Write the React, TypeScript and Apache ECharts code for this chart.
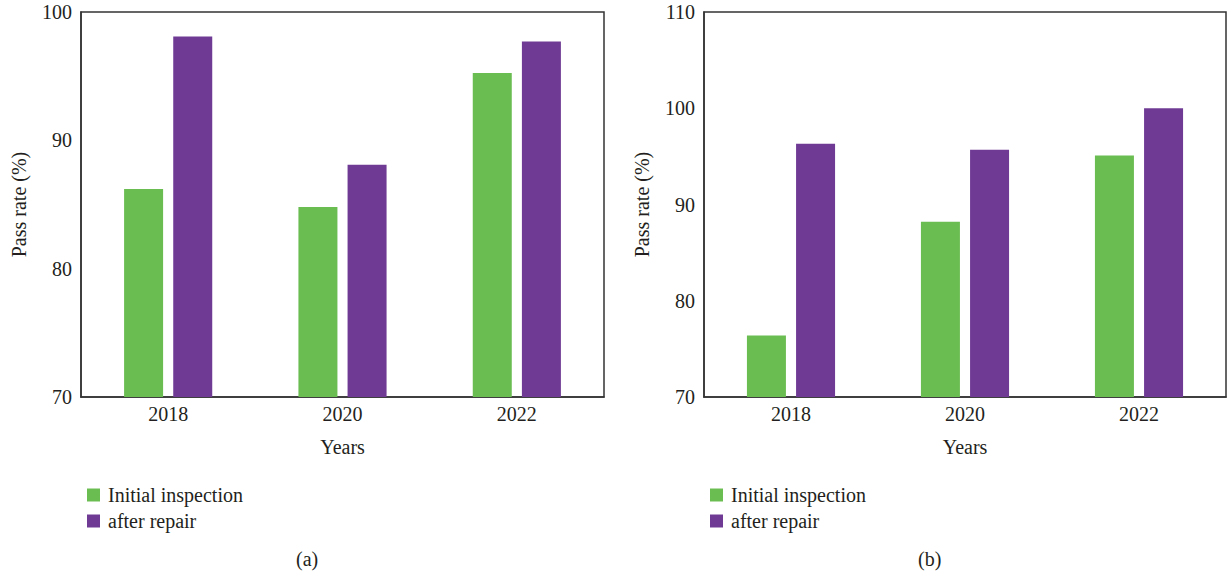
import React, { useEffect, useRef } from "react";
import * as echarts from "echarts";

const years = ["2018", "2020", "2022"];
const initialA = [86.2, 84.8, 95.25];
const repairA = [98.1, 88.1, 97.7];
const initialB = [76.4, 88.2, 95.1];
const repairB = [96.3, 95.7, 100.0];
const seriesNames = ["Initial inspection", "after repair"];
const panelLabels = ["(a)", "(b)"];

const GREEN = "#6abd51";
const PURPLE = "#6f3a94";
const FONT = "Liberation Serif";
const TXT = "#231f20";
const FS = 20;

export default function App() {
  const ref = useRef<HTMLDivElement>(null);
  useEffect(() => {
    const chart = echarts.init(ref.current!, null, { renderer: "svg" });
    const grids = [
      { left: 81, top: 12, width: 523, height: 385 },
      { left: 704, top: 12, width: 522, height: 385 },
    ];
    const yRanges = [
      { min: 70, max: 100, interval: 10 },
      { min: 70, max: 110, interval: 10 },
    ];
    const xAxis = grids.map((_, i) => ({
      type: "category",
      gridIndex: i,
      data: years,
      name: "Years",
      nameLocation: "middle",
      nameGap: 40,
      nameTextStyle: { fontFamily: FONT, fontSize: FS, color: TXT },
      axisTick: { show: false },
      axisLine: { lineStyle: { color: "#333", width: 1.5 } },
      axisLabel: { fontFamily: FONT, fontSize: FS, color: TXT, margin: 7 },
    }));
    const yAxis = grids.map((_, i) => ({
      type: "value",
      gridIndex: i,
      ...yRanges[i],
      name: "Pass rate (%)",
      nameLocation: "middle",
      nameGap: 52,
      nameTextStyle: { fontFamily: FONT, fontSize: FS, color: TXT },
      splitLine: { show: false },
      axisTick: { show: false },
      axisLine: { show: true, lineStyle: { color: "#333", width: 1.5 } },
      axisLabel: { fontFamily: FONT, fontSize: FS, color: TXT, margin: 9 },
    }));
    const data = [
      [initialA, repairA],
      [initialB, repairB],
    ];
    const series: any[] = [];
    data.forEach((pair, i) => {
      pair.forEach((vals, j) => {
        series.push({
          type: "bar",
          name: seriesNames[j],
          xAxisIndex: i,
          yAxisIndex: i,
          data: vals,
          barWidth: 39,
          barGap: "26%",
          itemStyle: { color: j === 0 ? GREEN : PURPLE },
        });
      });
    });
    const legends = [82, 705].map((left) => ({
      left,
      top: 480,
      orient: "vertical",
      itemWidth: 13,
      itemHeight: 13,
      itemGap: 6,
      icon: "rect",
      selectedMode: false,
      data: seriesNames,
      textStyle: { fontFamily: FONT, fontSize: FS, color: TXT, padding: [0, 0, 0, 3] },
    }));
    chart.setOption({
      animation: false,
      backgroundColor: "#fff",
      grid: grids.map((g) => ({
        ...g,
        show: true,
        borderColor: "#333",
        borderWidth: 1.5,
        backgroundColor: "transparent",
      })),
      xAxis,
      yAxis,
      legend: legends,
      series,
      graphic: [
        { type: "text", left: 296, top: 549, style: { text: panelLabels[0], font: `${FS}px ${FONT}`, fill: TXT } },
        { type: "text", left: 918, top: 549, style: { text: panelLabels[1], font: `${FS}px ${FONT}`, fill: TXT } },
      ],
    });
    return () => chart.dispose();
  }, []);
  return (
    <div
      ref={ref}
      style={{ position: "fixed", left: 0, top: 0, width: 1228, height: 578 }}
    />
  );
}
